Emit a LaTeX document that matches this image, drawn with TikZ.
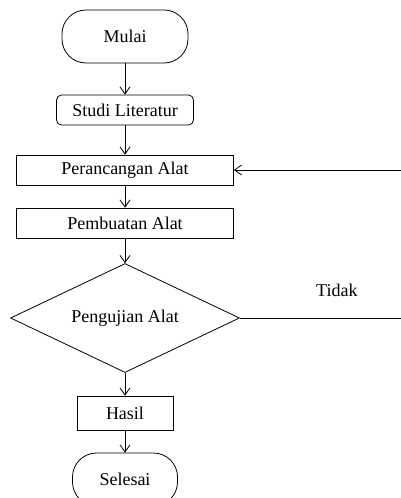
\documentclass[tikz,border=0pt]{standalone}
\usepackage{fontspec}
\setmainfont{Liberation Serif}
\usetikzlibrary{shapes.geometric,arrows.meta,positioning}

\begin{document}
\begin{tikzpicture}[->, >={Straight Barb[length=7pt,width=10pt]}, line width=0.8pt,
    font=\fontsize{18}{20}\selectfont,
    terminal/.style={draw, rounded corners=24pt, minimum width=126pt, minimum height=53pt, inner sep=0pt},
    process/.style={draw, minimum width=217pt, minimum height=30pt, inner sep=0pt},
    decision/.style={draw, diamond, aspect=2.1, minimum width=229pt, minimum height=109pt, inner sep=0pt}]

    \useasboundingbox (0,0) rectangle (401pt,-498pt);

    \node[terminal] (mulai) at (125pt,-36.5pt) {Mulai};
    \node[process, rounded corners=5pt, minimum width=137pt, node distance=73.5pt, below of=mulai] (studi) {Studi Literatur};
    \node[process, node distance=60pt, below of=studi] (rancang) {Perancangan Alat};
    \node[process, node distance=53pt, below of=rancang] (buat) {Pembuatan Alat};
    \node[decision, node distance=95pt, below of=buat] (uji) {Pengujian Alat};
    \node[process, minimum width=96pt, minimum height=34pt, node distance=95pt, below of=uji] (hasil) {Hasil};
    \node[terminal, minimum width=105pt, node distance=66.5pt, below of=hasil] (selesai) {Selesai};

    \path
        (mulai) edge (studi)
        (studi) edge (rancang)
        (rancang) edge (buat)
        (buat) edge (uji)
        (uji) edge (hasil)
        (hasil) edge (selesai);

    % jalur kembali jika pengujian gagal
    \coordinate (balik) at (410pt,-320pt);
    \draw (uji.east) -- node[pos=0.57, yshift=28pt] (tidak) {Tidak} (uji.east -| balik) |- (rancang.east);

\end{tikzpicture}
\end{document}
